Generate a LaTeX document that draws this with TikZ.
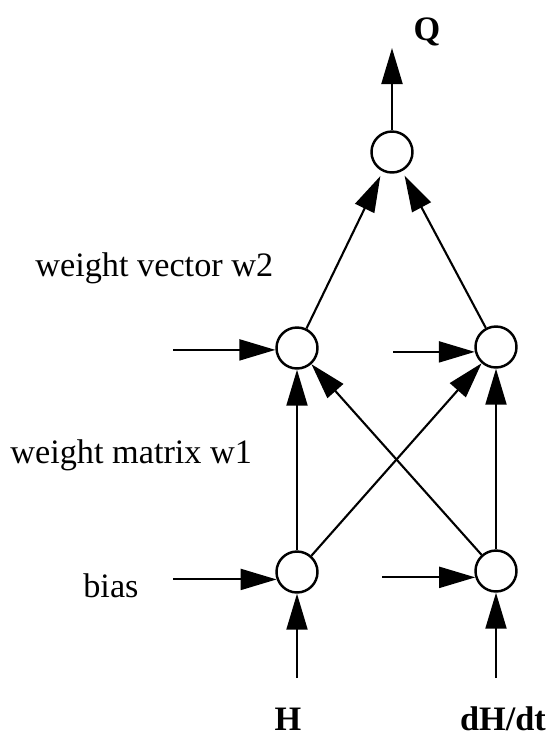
\documentclass[tikz,border=0pt]{standalone}
\usepackage{fontspec}
\setmainfont{Liberation Serif}
\usetikzlibrary{arrows.meta,positioning}

\begin{document}
\begin{tikzpicture}[x=0.02cm,y=-0.02cm,every node/.style={font=\fontsize{19.5}{23}\selectfont},
  neuron/.style={draw, circle, line width=1.4pt, minimum size=0.82cm, inner sep=0pt},
  arr/.style={line width=1.2pt, -{Triangle[length=0.72cm,width=0.42cm]}}]
  \useasboundingbox (0,0) rectangle (548,745);
  \node[neuron] (q) at (392,152) {};
  \node[neuron] (h1) at (297,348) {};
  \node[neuron] (h2) at (496,347) {};
  \node[neuron] (i1) at (297,572) {};
  \node[neuron] (i2) at (496,571) {};
  \coordinate (qout) at (392,48);
  \coordinate (hin) at (297,678);
  \coordinate (dhin) at (496,678);
  \draw[arr] (q) -- (qout);
  \draw[arr, shorten >=0.1cm] (h1) -- (q);
  \draw[arr, shorten >=0.1cm] (h2) -- (q);
  \draw[arr] (i1) -- (h1);
  \draw[arr] (i2) -- (h2);
  \draw[arr] (i1) -- (h2);
  \draw[arr] (i2) -- (h1);
  \draw[arr] (hin) -- (i1);
  \draw[arr] (dhin) -- (i2);
  \foreach \n/\a/\x in {h1/185/173, h2/193/393, i1/200/173, i2/197/382}{
    \coordinate (b-\n) at (\x,0);
    \draw[arr] (\n.\a -| b-\n) -- (\n.\a);}
  \node[anchor=base] (qlab) at (427,40) {\textbf{Q}};
  \node[anchor=base west, inner sep=0pt] (w2lab) at (35,276) {weight vector w2};
  \node[anchor=base west, inner sep=0pt] (w1lab) at (10,463) {weight matrix w1};
  \node[anchor=base west, inner sep=0pt] (biaslab) at (83,597) {bias};
  \node[anchor=base] (hlab) at (288,730) {\textbf{H}};
  \node[anchor=base] (dhlab) at (503,730) {\textbf{dH/dt}};
\end{tikzpicture}
\end{document}
